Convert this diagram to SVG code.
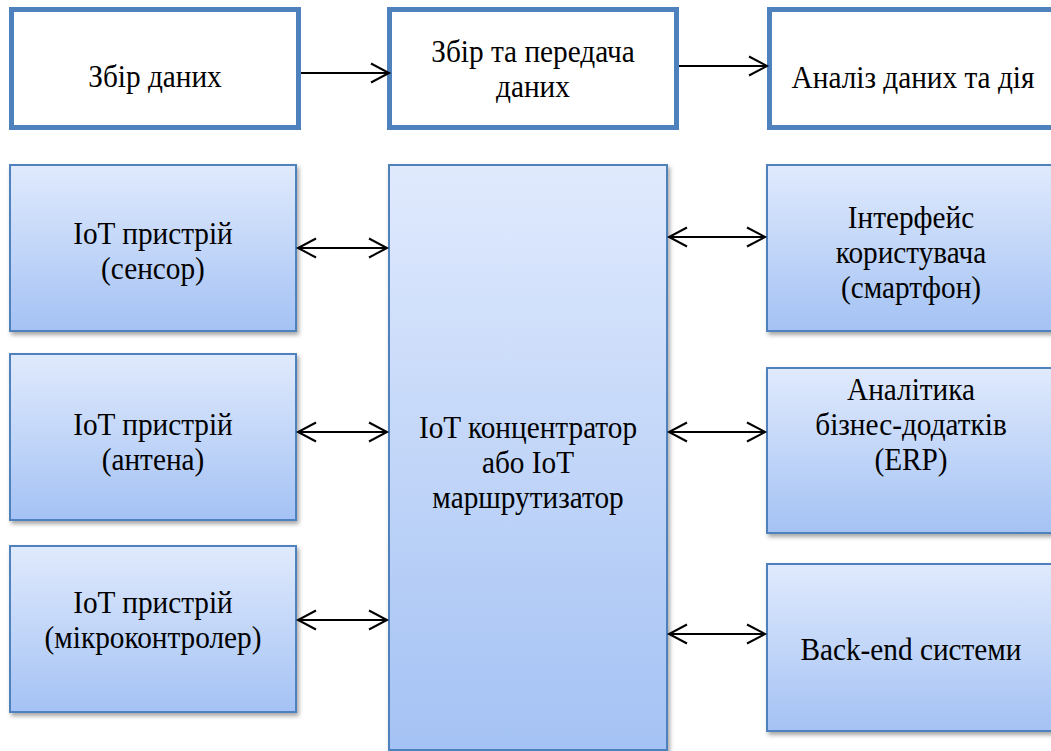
<svg xmlns="http://www.w3.org/2000/svg" width="1051" height="751" viewBox="0 0 1051 751">
  <defs>
    <linearGradient id="blueGrad" x1="0" y1="0" x2="0" y2="1">
      <stop offset="0" stop-color="#E0EAFD"/>
      <stop offset="1" stop-color="#A4C2F4"/>
    </linearGradient>
    <filter id="shadow" x="-10%" y="-10%" width="130%" height="130%">
      <feDropShadow dx="2" dy="3" stdDeviation="2" flood-color="#000" flood-opacity="0.35"/>
    </filter>
    <marker id="arrow" viewBox="-2 -2 24 24" refX="18" refY="9.5" markerWidth="24" markerHeight="24" markerUnits="userSpaceOnUse" orient="auto-start-reverse">
      <path d="M0,0 L18,9.5 L0,19" fill="none" stroke="#000" stroke-width="2"/>
    </marker>
    <style>
      .top { fill: #FFFFFF; stroke: #4F81BD; stroke-width: 5; }
      .blue { fill: url(#blueGrad); stroke: #4F81BD; stroke-width: 2; filter: url(#shadow); }
      .lbl { font-family: "Liberation Serif", "Times New Roman", "DejaVu Serif", serif; font-size: 32px; fill: #000; text-anchor: middle; }
      .conn { fill: none; stroke: #000; stroke-width: 2; }
    </style>
  </defs>

  <g id="stage-collect">
    <rect class="top" x="11.5" y="9.5" width="287" height="118"/>
    <text class="lbl" transform="translate(155,87) scale(0.915,1)" x="0" y="0">Збір даних</text>
  </g>
  <g id="stage-transfer">
    <rect class="top" x="389.5" y="9.5" width="287" height="118"/>
    <text class="lbl" transform="translate(533,62) scale(0.915,1)" x="0" y="0"><tspan x="0" y="0">Збір та передача</tspan><tspan x="0" y="35">даних</tspan></text>
  </g>
  <g id="stage-analysis">
    <rect class="top" x="769.5" y="9.5" width="287" height="118"/>
    <text class="lbl" transform="translate(913,88) scale(0.915,1)" x="0" y="0">Аналіз даних та дія</text>
  </g>

  <g id="device-sensor">
    <rect class="blue" x="10" y="165" width="286" height="166"/>
    <text class="lbl" transform="translate(153,244) scale(0.915,1)" x="0" y="0"><tspan x="0" y="0">IoT пристрій</tspan><tspan x="0" y="35">(сенсор)</tspan></text>
  </g>
  <g id="device-antenna">
    <rect class="blue" x="10" y="354" width="286" height="166"/>
    <text class="lbl" transform="translate(153,435) scale(0.915,1)" x="0" y="0"><tspan x="0" y="0">IoT пристрій</tspan><tspan x="0" y="35">(антена)</tspan></text>
  </g>
  <g id="device-mcu">
    <rect class="blue" x="10" y="546" width="286" height="166"/>
    <text class="lbl" transform="translate(153,613) scale(0.915,1)" x="0" y="0"><tspan x="0" y="0">IoT пристрій</tspan><tspan x="0" y="35">(мікроконтролер)</tspan></text>
  </g>

  <g id="hub">
    <rect class="blue" x="389" y="165" width="278" height="585"/>
    <text class="lbl" transform="translate(528,438) scale(0.915,1)" x="0" y="0"><tspan x="0" y="0">IoT концентратор</tspan><tspan x="0" y="35">або IoT</tspan><tspan x="0" y="70">маршрутизатор</tspan></text>
  </g>

  <g id="ui-smartphone">
    <rect class="blue" x="767" y="165" width="290" height="166"/>
    <text class="lbl" transform="translate(911,228) scale(0.915,1)" x="0" y="0"><tspan x="0" y="0">Інтерфейс</tspan><tspan x="0" y="35">користувача</tspan><tspan x="0" y="70">(смартфон)</tspan></text>
  </g>
  <g id="erp">
    <rect class="blue" x="767" y="368" width="290" height="165"/>
    <text class="lbl" transform="translate(911,400) scale(0.915,1)" x="0" y="0"><tspan x="0" y="0">Аналітика</tspan><tspan x="0" y="35">бізнес-додатків</tspan><tspan x="0" y="70">(ERP)</tspan></text>
  </g>
  <g id="backend">
    <rect class="blue" x="767" y="564" width="290" height="167"/>
    <text class="lbl" transform="translate(911,660) scale(0.915,1)" x="0" y="0">Back-end системи</text>
  </g>

  <g id="connectors">
    <path class="conn" d="M301,73 H389" marker-end="url(#arrow)"/>
    <path class="conn" d="M679,66 H767" marker-end="url(#arrow)"/>
    <path class="conn" d="M298,248 H387" marker-start="url(#arrow)" marker-end="url(#arrow)"/>
    <path class="conn" d="M298,432 H387" marker-start="url(#arrow)" marker-end="url(#arrow)"/>
    <path class="conn" d="M298,620 H387" marker-start="url(#arrow)" marker-end="url(#arrow)"/>
    <path class="conn" d="M669,237 H765" marker-start="url(#arrow)" marker-end="url(#arrow)"/>
    <path class="conn" d="M669,432 H765" marker-start="url(#arrow)" marker-end="url(#arrow)"/>
    <path class="conn" d="M669,634 H765" marker-start="url(#arrow)" marker-end="url(#arrow)"/>
  </g>
</svg>
